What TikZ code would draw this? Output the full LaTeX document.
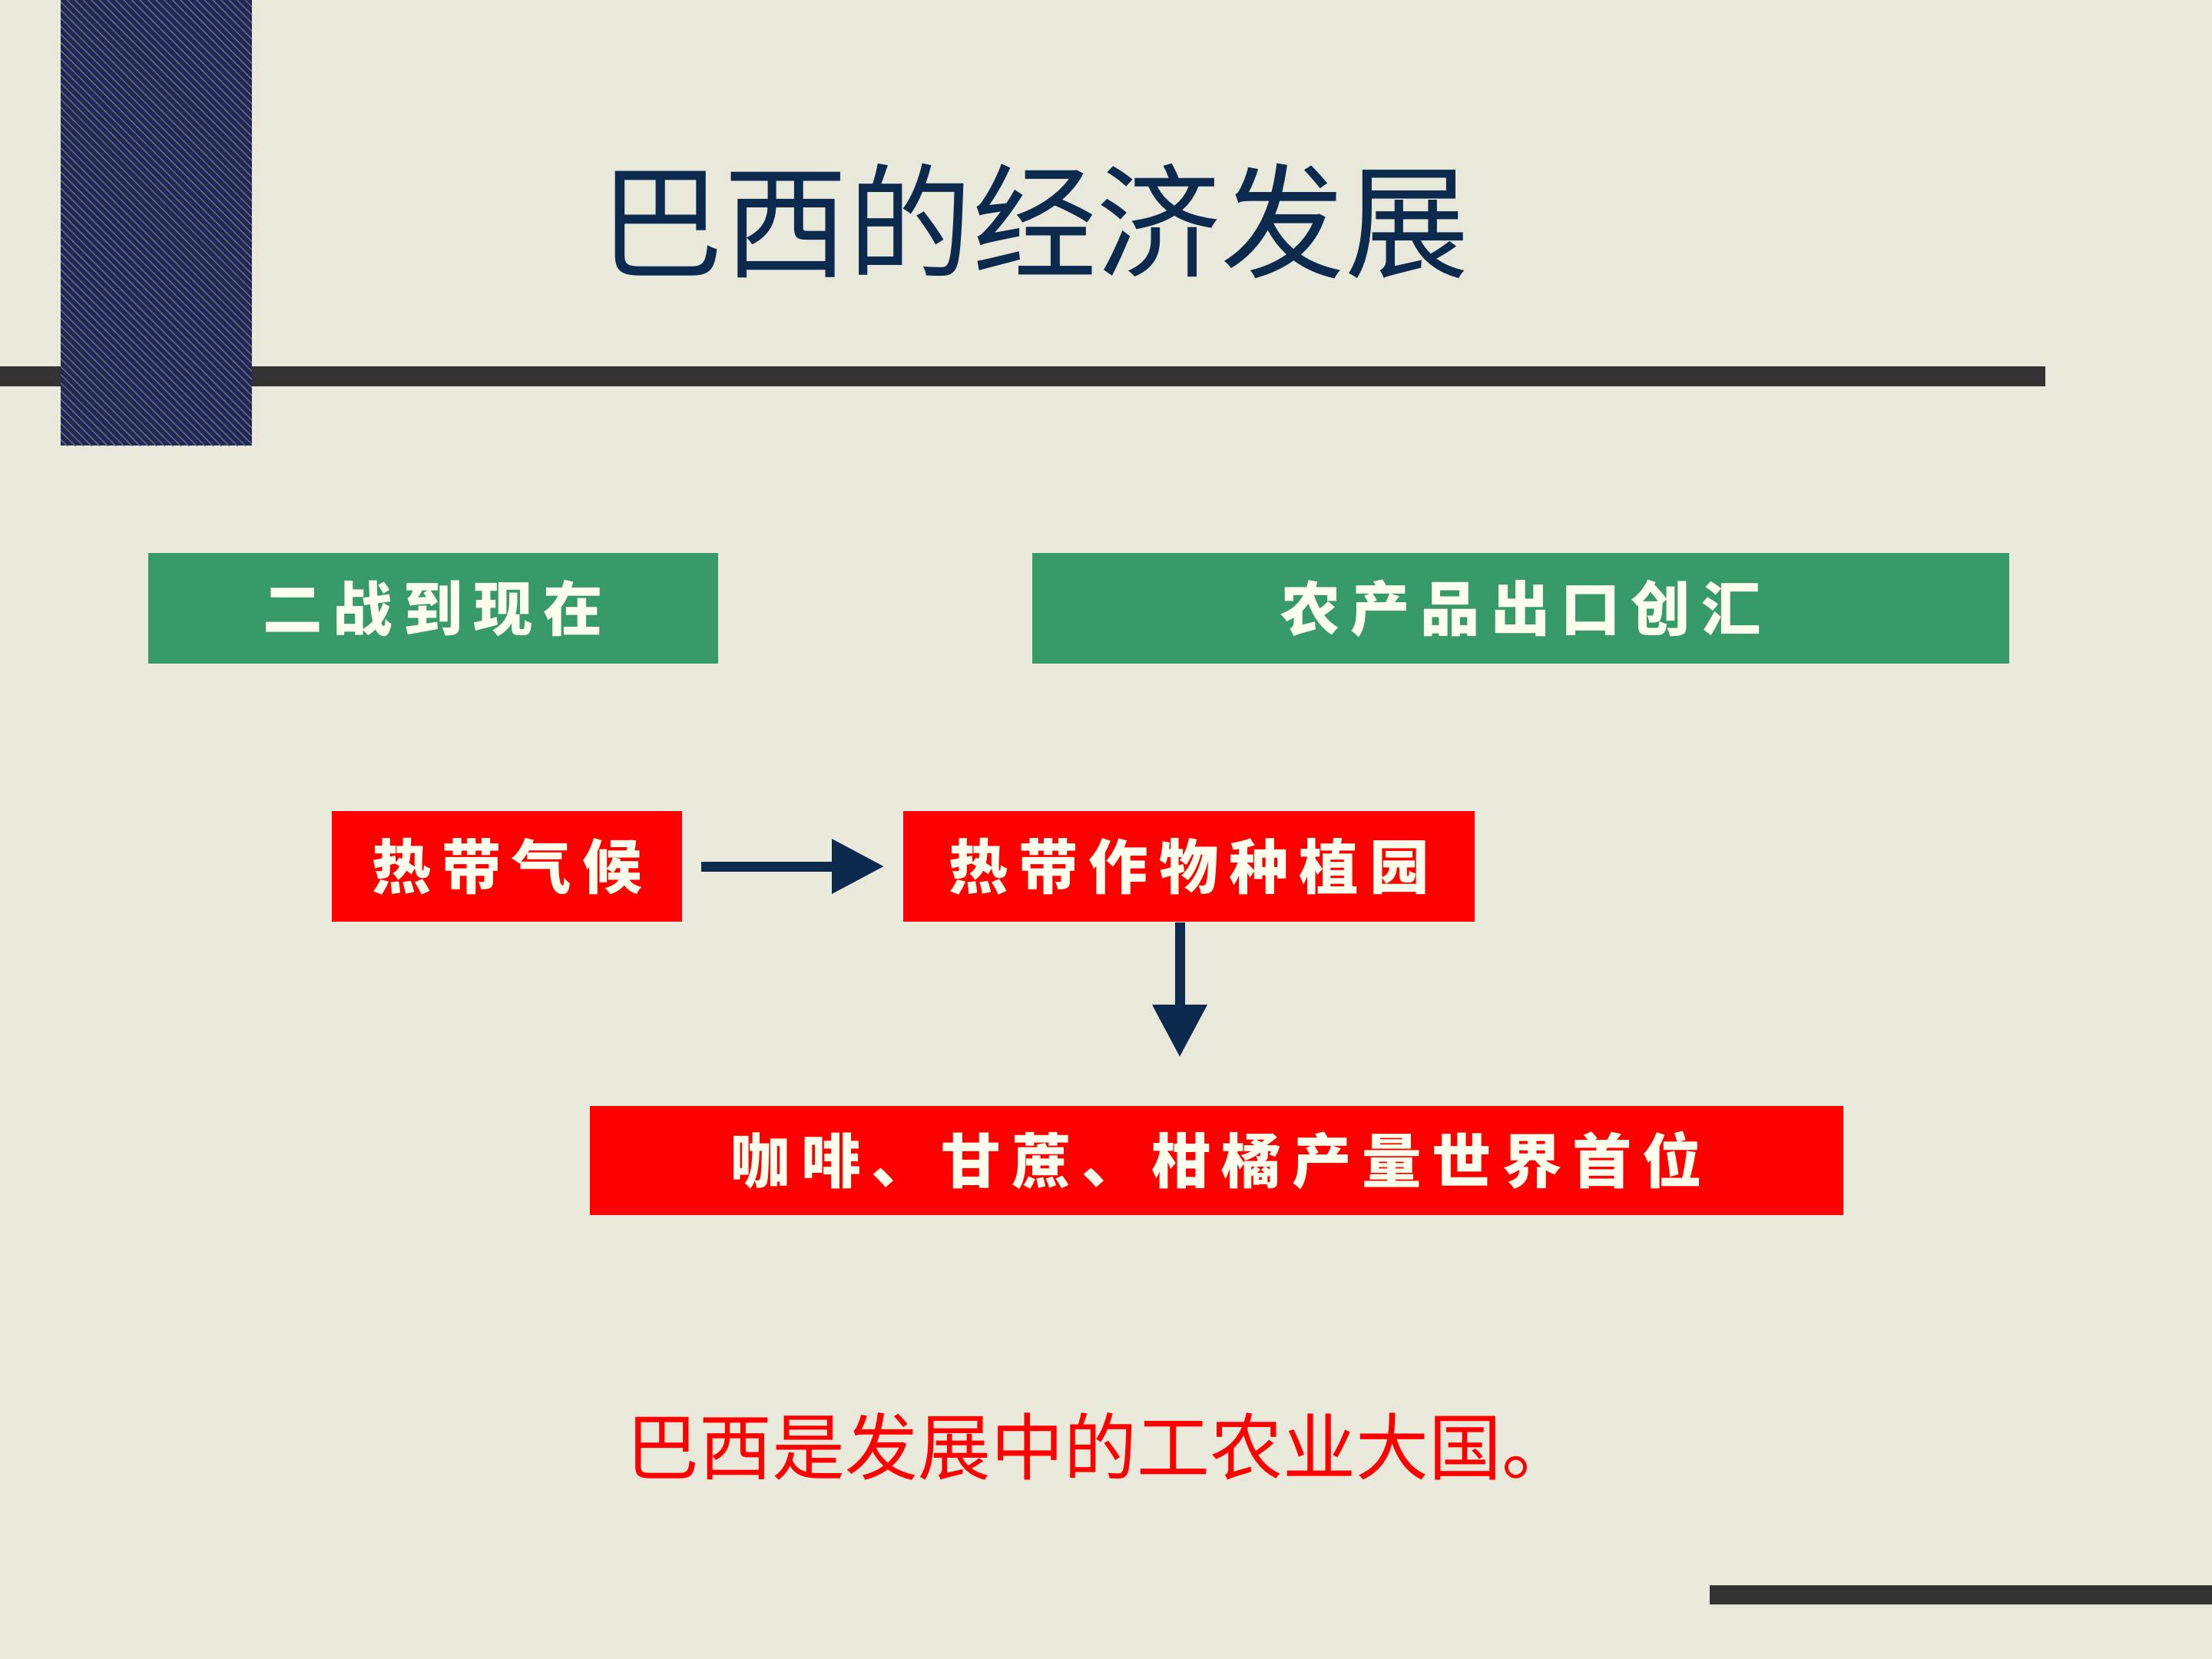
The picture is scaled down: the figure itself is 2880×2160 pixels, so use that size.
\documentclass[tikz,border=0pt]{standalone}
\usepackage{fontspec}
\usepackage{xcolor}
\usepackage{tikz}
\usetikzlibrary{positioning, calc, arrows.meta, patterns}
\newfontfamily\cjk{Noto Sans CJK SC}
\newfontfamily\cjkbox[LetterSpace=18]{Noto Sans CJK SC}
\definecolor{PageColor}{HTML}{E9E9DB}
\definecolor{BarColor}{HTML}{333333}
\definecolor{BlockColor}{HTML}{1F2858}
\definecolor{TitleColor}{HTML}{0C2A4E}
\definecolor{BannerColor}{HTML}{379A69}
\definecolor{FactColor}{HTML}{FF0000}
\definecolor{CreamColor}{HTML}{FFFFEE}
\tikzset{
    box/.style={
        rectangle,
        inner sep=0pt,
        minimum height=1.44cm,
        text=CreamColor,
        font=\cjkbox\bfseries\fontsize{22pt}{26pt}\selectfont
    },
    banner/.style={box, fill=BannerColor},
    fact/.style={box, fill=FactColor},
    flow/.style={-{Triangle[length=0.68cm, width=0.68cm]}, draw=TitleColor, line width=0.13cm}
}

\begin{document}
\begin{tikzpicture}[x=0.01cm, y=-0.01cm]

% Page
\fill[PageColor] (0,0) rectangle (2880,2160);
\useasboundingbox (0,0) rectangle (2880,2160);

% Rules and corner block
\fill[BarColor] (0,477) rectangle (2663,503);
\fill[BarColor] (2226,2064) rectangle (2880,2089);
\fill[BlockColor] (79,0) rectangle (328,580);
\fill[pattern=north west lines, pattern color=gray!85!black] (79,0) rectangle (328,580);

% Title
\node[font=\cjk\fontsize{46pt}{55pt}\selectfont, text=TitleColor] (title) at (1347,288) {巴西的经济发展};

% --- Banners ---
\node[banner, minimum width=7.42cm] (g_war) at (564,792) {二战到现在};
\node[banner, minimum width=12.71cm] (g_export) at (1980,792) {农产品出口创汇};

% --- Chain ---
\node[fact, minimum width=4.56cm] (r_climate) at (660,1128) {热带气候};
\node[fact, minimum width=7.44cm] (r_plant) at (1548,1128) {热带作物种植园};
\node[fact, minimum width=16.31cm, minimum height=1.42cm] (r_rank) at (1584,1511) {咖啡、甘蔗、柑橘产量世界首位};

\draw[flow, shorten <=0.24cm, shorten >=0.24cm] (r_climate) -- (r_plant);
\draw[flow, shorten >=0.63cm] ([xshift=-0.12cm]r_plant.south) -- ([xshift=-0.12cm]r_plant.south |- r_rank.north);

% Summary
\node[anchor=west, inner sep=0pt, font=\cjk\fontsize{27pt}{32pt}\selectfont, text=FactColor] (summary) at (815,1883) {巴西是发展中的工农业大国。};

\end{tikzpicture}
\end{document}
